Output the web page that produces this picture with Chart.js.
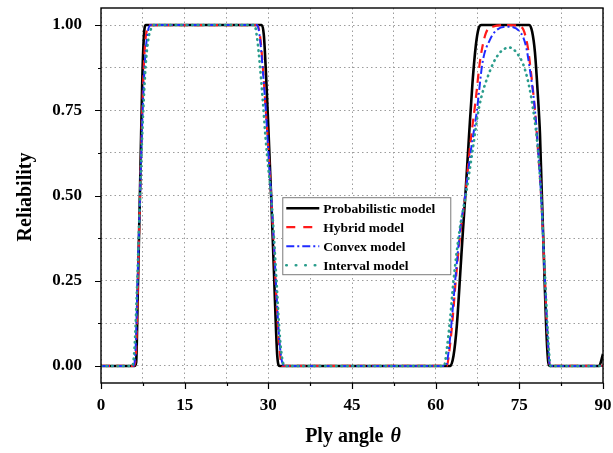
<!DOCTYPE html>
<html><head><meta charset="utf-8">
<script src="https://cdn.jsdelivr.net/npm/chart.js@4/dist/chart.umd.min.js"></script>
<style>html,body{margin:0;padding:0;background:#fff}#wrap{width:613px;height:453px;position:relative}</style>
</head><body><div id="wrap"><canvas id="c" width="613" height="453"></canvas></div>
<script>
// ---- data ----
const seriesNames = ['Probabilistic model', 'Hybrid model', 'Convex model', 'Interval model'];
const xTickLabels = [0, 15, 30, 45, 60, 75, 90];
const yTickLabels = [0, 0.25, 0.5, 0.75, 1];

const probAngle = [0, 6.0, 6.3, 6.6, 7.0, 7.4, 7.7, 8.0, 28.8, 29.2, 29.6, 30.0, 30.5, 31.0, 31.3, 31.6, 32.0, 62.6, 63.2, 63.8, 64.4, 64.9, 65.4, 66.0, 66.6, 67.2, 67.7, 68.2, 76.8, 77.3, 77.8, 78.3, 78.7, 79.0, 79.4, 79.8, 80.2, 80.5, 89.3, 90];
const probRel   = [0, 0,   0.01, 0.22, 0.52, 0.84, 0.97, 1, 1,  0.97, 0.85, 0.7,  0.5,  0.28, 0.14, 0.03, 0,    0,    0.03, 0.12, 0.27, 0.4,  0.52, 0.68, 0.83, 0.94, 0.99, 1,    1,    0.98, 0.92, 0.8,  0.68, 0.52, 0.32, 0.12, 0.01, 0,    0,    0.035];

const hybAngle = [0, 5.9, 6.3, 6.7, 7.0, 7.4, 7.8, 8.3, 8.8, 28.0, 28.5, 29.0, 29.5, 30.0, 30.5, 31.0, 31.5, 32.0, 32.5, 62.0, 62.5, 63.0, 63.6, 64.5, 65.3, 66.2, 67.1, 68.0, 69.0, 70.2, 73.0, 75.3, 76.4, 77.1, 77.8, 78.4, 78.9, 79.3, 79.6, 80.0, 80.5, 90];
const hybRel   = [0, 0,   0.05, 0.3, 0.5, 0.75, 0.92, 0.99, 1,  1,    0.97, 0.88, 0.76, 0.64, 0.5,  0.35, 0.18, 0.05, 0,    0,    0.05, 0.13, 0.25, 0.4,  0.5,  0.65, 0.77, 0.9,  0.976, 0.995, 1.0, 0.995, 0.946, 0.86, 0.75, 0.62, 0.5, 0.36, 0.25, 0.1, 0, 0];

const cvxAngle = [0, 5.8, 6.2, 6.6, 7.0, 7.4, 7.9, 8.4, 8.9, 28.0, 28.5, 29.0, 29.5, 30.0, 30.5, 31.0, 31.5, 32.0, 32.5, 33.0, 61.8, 62.3, 62.8, 63.5, 64.4, 65.3, 66.3, 67.4, 68.4, 69.7, 70.9, 73.0, 75.3, 76.2, 76.8, 77.8, 78.9, 79.6, 80.1, 80.5, 90];
const cvxRel   = [0, 0,   0.05, 0.28, 0.5, 0.72, 0.9, 0.98, 1,  1,    0.96, 0.87, 0.76, 0.63, 0.5,  0.36, 0.2,  0.07, 0.01, 0,    0,    0.04, 0.12, 0.25, 0.4,  0.5,  0.63, 0.75, 0.89, 0.956, 0.985, 0.995, 0.976, 0.937, 0.88, 0.75, 0.5, 0.25, 0.08, 0, 0];

const intAngle = [0, 5.6, 6.0, 6.5, 7.0, 7.5, 8.0, 8.5, 9.0, 9.5, 27.5, 28.0, 28.5, 29.0, 29.5, 30.0, 30.5, 31.0, 31.5, 32.0, 32.5, 33.0, 61.5, 62.0, 62.6, 63.2, 64.3, 65.4, 66.6, 67.8, 69.6, 71.3, 73.2, 74.9, 76.0, 77.1, 78.3, 78.9, 79.5, 80.1, 80.6, 90];
const intRel   = [0, 0,   0.05, 0.25, 0.5, 0.72, 0.88, 0.96, 0.99, 1,  1,    0.96, 0.88, 0.78, 0.67, 0.58, 0.5,  0.38, 0.24, 0.1,  0.02, 0,    0,    0.05, 0.14, 0.25, 0.4,  0.5,  0.63, 0.76, 0.86, 0.915, 0.934, 0.91, 0.87, 0.79, 0.64, 0.5, 0.3, 0.1, 0, 0];

// ---- helpers ----
const pts = (xs, ys) => xs.map((v, i) => ({ x: v, y: ys[i] }));
const xGrid = [];
xTickLabels.forEach((v, i) => { xGrid.push(v); if (i < xTickLabels.length - 1) xGrid.push((v + xTickLabels[i + 1]) / 2); });
const yGrid = [];
yTickLabels.forEach((v, i) => { yGrid.push(v); if (i < yTickLabels.length - 1) yGrid.push((v + yTickLabels[i + 1]) / 2); });

const SERIF = '"Liberation Serif", "Times New Roman", serif';
const styles = [
  { color: '#000000', width: 2.6, dash: [], cap: 'butt' },
  { color: '#ff1a1a', width: 2.2, dash: [9, 6], cap: 'butt' },
  { color: '#1f2bff', width: 2.0, dash: [8, 3, 2, 3], cap: 'butt' },
  { color: '#2a9d8c', width: 2.6, dash: [0.5, 5], cap: 'round' }
];
const allData = [pts(probAngle, probRel), pts(hybAngle, hybRel), pts(cvxAngle, cvxRel), pts(intAngle, intRel)];

const decor = {
  id: 'decor',
  afterDraw(chart) {
    const { ctx, chartArea: a, scales: { x, y } } = chart;
    ctx.save();
    // frame
    ctx.strokeStyle = '#000'; ctx.lineWidth = 1.4; ctx.setLineDash([]);
    ctx.strokeRect(a.left, a.top, a.right - a.left, a.bottom - a.top);
    // tick marks
    ctx.lineWidth = 1.2;
    ctx.beginPath();
    xGrid.forEach(v => { const px = Math.round(x.getPixelForValue(v)) + 0.5; const len = xTickLabels.includes(v) ? 6 : 3; ctx.moveTo(px, a.bottom); ctx.lineTo(px, a.bottom + len); });
    yGrid.forEach(v => { const py = Math.round(y.getPixelForValue(v)) + 0.5; const len = yTickLabels.includes(v) ? 6 : 3; ctx.moveTo(a.left, py); ctx.lineTo(a.left - len, py); });
    ctx.stroke();
    // axis titles
    ctx.fillStyle = '#000';
    ctx.textBaseline = 'middle';
    const f1 = 'bold 20px ' + SERIF, f2 = 'italic bold 20px ' + SERIF;
    ctx.font = f1; const w1 = ctx.measureText('Ply angle ').width;
    ctx.font = f2; const w2 = ctx.measureText('θ').width;
    const cx = (a.left + a.right) / 2, sx = cx - (w1 + w2) / 2;
    ctx.textAlign = 'left';
    ctx.font = f1; ctx.fillText('Ply angle ', sx, 437);
    ctx.font = f2; ctx.fillText('θ', sx + w1 + 2, 437);
    ctx.save();
    ctx.translate(26, 197);
    ctx.rotate(-Math.PI / 2);
    ctx.textAlign = 'center';
    ctx.font = f1; ctx.fillText('Reliability', 0, 0);
    ctx.restore();
    // legend
    const bx = x.getPixelForValue(32.5), by = y.getPixelForValue(0.495);
    const bw = 168, bh = 77;
    ctx.fillStyle = '#fff'; ctx.fillRect(bx, by, bw, bh);
    ctx.strokeStyle = '#7a7a7a'; ctx.lineWidth = 1; ctx.strokeRect(bx + 0.5, by + 0.5, bw, bh);
    ctx.font = 'bold 13.5px ' + SERIF; ctx.textAlign = 'left'; ctx.textBaseline = 'middle';
    seriesNames.forEach((name, i) => {
      const ry = by + 11 + i * 19;
      const s = styles[i];
      ctx.strokeStyle = s.color; ctx.lineWidth = s.width; ctx.lineCap = s.cap;
      ctx.setLineDash(i === 3 ? [0.5, 9] : (i === 1 ? [9, 8] : s.dash));
      ctx.beginPath(); ctx.moveTo(bx + 4, ry); ctx.lineTo(bx + 37, ry); ctx.stroke();
      ctx.setLineDash([]); ctx.lineCap = 'butt';
      ctx.fillStyle = '#000'; ctx.fillText(name, bx + 41, ry + 1);
    });
    ctx.restore();
  }
};

new Chart(document.getElementById('c'), {
  type: 'line',
  data: {
    datasets: allData.map((d, i) => ({
      label: seriesNames[i],
      data: d,
      borderColor: styles[i].color,
      borderWidth: styles[i].width,
      borderDash: styles[i].dash,
      borderCapStyle: styles[i].cap,
      fill: false,
      pointRadius: 0,
      cubicInterpolationMode: 'monotone',
      order: 4 - i
    }))
  },
  options: {
    responsive: false,
    animation: false,
    devicePixelRatio: 1,
    layout: { padding: { top: 8, right: 10, left: 0, bottom: 0 } },
    plugins: { legend: { display: false }, tooltip: { enabled: false } },
    scales: {
      x: {
        type: 'linear', min: 0, max: 90,
        afterBuildTicks: s => { s.ticks = xGrid.map(v => ({ value: v })); },
        afterFit: s => { s.height = 70; s.paddingLeft = 0; s.paddingRight = 0; },
        ticks: {
          autoSkip: false, maxRotation: 0, padding: 12, color: '#000',
          font: { family: SERIF, weight: 'bold', size: 17 },
          callback: v => xTickLabels.includes(v) ? String(v) : ''
        },
        grid: { color: '#9c9c9c', lineWidth: 1, drawTicks: false },
        border: { display: false, dash: [1.5, 3] }
      },
      y: {
        type: 'linear', min: -0.05, max: 1.05,
        afterBuildTicks: s => { s.ticks = yGrid.map(v => ({ value: v })); },
        afterFit: s => { s.width = 101; s.paddingTop = 0; s.paddingBottom = 0; },
        ticks: {
          autoSkip: false, padding: 19, color: '#000',
          font: { family: SERIF, weight: 'bold', size: 17 },
          callback: v => yTickLabels.includes(v) ? v.toFixed(2) : ''
        },
        grid: { color: '#9c9c9c', lineWidth: 1, drawTicks: false },
        border: { display: false, dash: [1.5, 3] }
      }
    }
  },
  plugins: [decor]
});
</script>
</body></html>
